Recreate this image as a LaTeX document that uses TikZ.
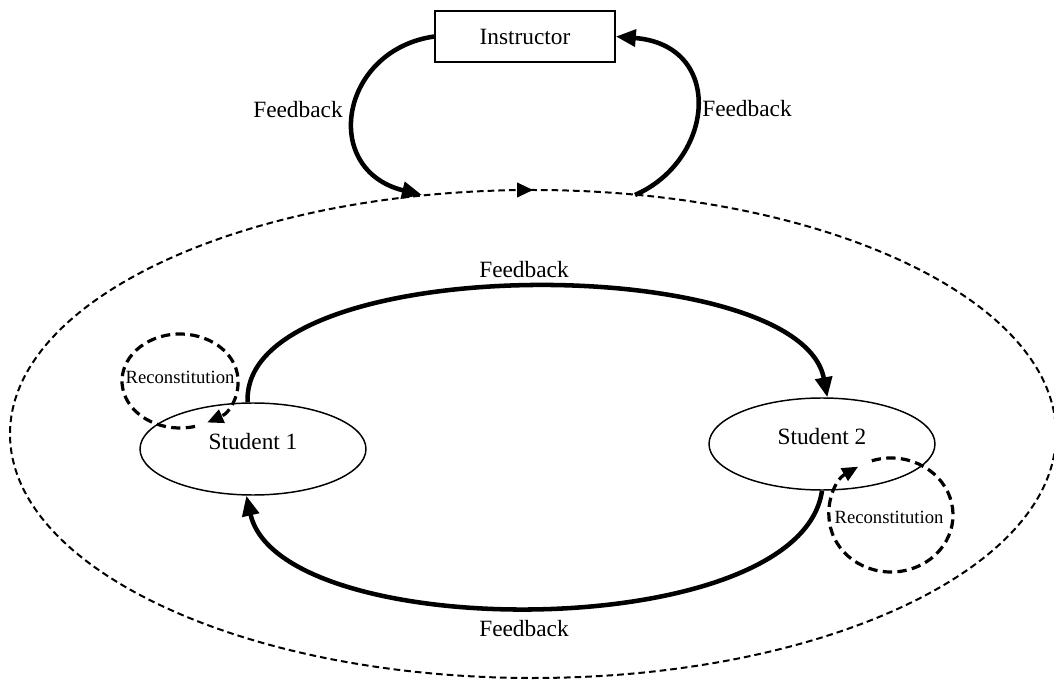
\documentclass[tikz,border=0pt]{standalone}
\usepackage{fontspec}
\setmainfont{Liberation Serif}
\usetikzlibrary{arrows.meta,shapes.geometric,decorations.markings}
\begin{document}
\begin{tikzpicture}[x=0.75pt,y=-0.75pt,
  lbl/.style={font=\fontsize{17.5}{20}\selectfont, inner sep=0pt},
  rlbl/.style={font=\fontsize{14}{16}\selectfont, inner sep=0pt},
  stud/.style={draw, ellipse, line width=1.1pt, minimum width=169.5pt, minimum height=69pt, inner sep=0pt},
  fb/.style={line width=3.4pt, -{Triangle[length=15pt,width=12.5pt]}},
  recon/.style={line width=2.4pt, dash pattern=on 7pt off 4pt, -{Triangle[length=12pt,width=10.5pt]}},
  outer/.style={line width=1.5pt, dash pattern=on 5pt off 3pt}]

\useasboundingbox (0,0) rectangle (1054,684);

% outer group ellipse
\coordinate (oc) at (533,434);
\draw[outer, postaction={decorate, decoration={markings,
    mark=at position 0.25 with {\arrowreversed{Triangle[length=12pt,width=11pt]}}}}]
  (oc) ellipse [x radius=392.25pt, y radius=183pt];
\coordinate (o1) at (422,195);
\coordinate (o2) at (635,195);

% instructor
\node[draw, line width=1.2pt, minimum width=135pt, minimum height=38.25pt, lbl] (instr) at (525,36.5) {Instructor};

% students
\node[stud, label={[lbl,yshift=5.25pt]center:Student 1}] (s1) at (253,449) {};
\node[stud, label={[lbl,yshift=5.25pt]center:Student 2}] (s2) at (822,444) {};

% reconstitution loops
\node[rlbl] (r1) at (180,377) {Reconstitution};
\node[rlbl] (r2) at (889,517) {Reconstitution};
\coordinate (c1) at (180,381);
\coordinate (c2) at (891,515);
\draw[recon] ([shift={(-75:43.5pt and 35.25pt)}]c1) arc [start angle=-75, end angle=-422, x radius=43.5pt, y radius=35.25pt];
\draw[recon] ([shift={(108:46.5pt and 42.75pt)}]c2) arc [start angle=108, end angle=-238, x radius=46.5pt, y radius=42.75pt];

% feedback connectors
\draw[fb] (instr.west) .. controls (340,50) and (320,170) .. (o1);
\draw[fb] (o2) .. controls (715,160) and (725,45) .. (instr.east);
\draw[fb] ([xshift=-4pt]s1.north) .. controls (240,250) and (800,250) .. ([xshift=4pt]s2.north);
\draw[fb] (s2.south) .. controls (800,645) and (280,645) .. ([xshift=-5pt]s1.south);

% labels
\node[lbl] (f1) at (298,110) {Feedback};
\node[lbl] (f2) at (747,109) {Feedback};
\node[lbl] (f3) at (524,270) {Feedback};
\node[lbl] (f4) at (524,629) {Feedback};
\end{tikzpicture}
\end{document}
